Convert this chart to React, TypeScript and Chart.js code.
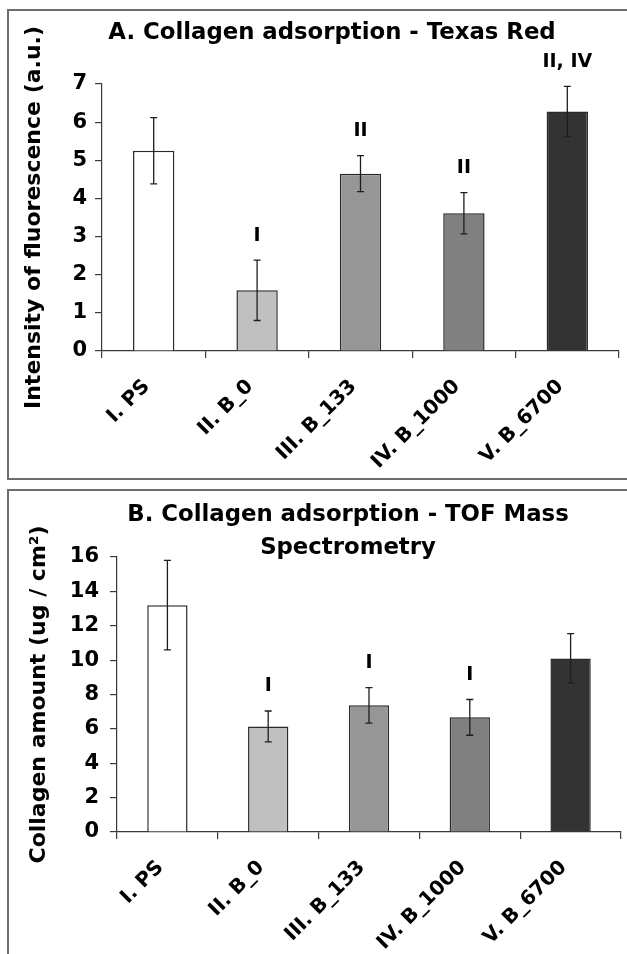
import React, { useEffect, useRef } from "react";
import { Chart, registerables } from "chart.js";

Chart.register(...registerables);

const FONT = "'DejaVu Sans', 'Liberation Sans', Arial, sans-serif";

const categories = ["I. PS", "II. B_0", "III. B_133", "IV. B_1000", "V. B_6700"];
const barColors = ["#ffffff", "#c0c0c0", "#969696", "#808080", "#333333"];

const fluorescenceValues = [5.25, 1.59, 4.65, 3.61, 6.28];
const fluorescenceErrors = [0.87, 0.79, 0.47, 0.54, 0.66];
const fluorescenceMarks = ["", "I", "II", "II", "II, IV"];
const fluorescenceTitle = ["A. Collagen adsorption - Texas Red"];
const fluorescenceAxisTitle = "Intensity of fluorescence (a.u.)";
const fluorescenceMax = 7;
const fluorescenceStep = 1;

const tofValues = [13.2, 6.14, 7.37, 6.67, 10.1];
const tofErrors = [2.6, 0.9, 1.03, 1.04, 1.44];
const tofMarks = ["", "I", "I", "I", ""];
const tofTitle = ["B. Collagen adsorption - TOF Mass", "Spectrometry"];
const tofAxisTitle = "Collagen amount (ug / cm\u00B2)";
const tofMax = 16;
const tofStep = 2;

const AXIS_COLOR = "#3a3a3a";

const annotatePlugin = {
  id: "annotate",
  afterDatasetsDraw(chart: any, _args: any, opts: any) {
    const { ctx } = chart;
    const meta = chart.getDatasetMeta(0);
    const y = chart.scales.y;
    ctx.save();
    ctx.strokeStyle = "#1e1e1e";
    ctx.lineWidth = 1.3;
    meta.data.forEach((bar: any, i: number) => {
      const v = opts.values[i];
      const e = opts.errors[i];
      const x = bar.x;
      const yt = y.getPixelForValue(v + e);
      const yb = y.getPixelForValue(v - e);
      ctx.beginPath();
      ctx.moveTo(x, yt);
      ctx.lineTo(x, yb);
      ctx.moveTo(x - 3.5, yt);
      ctx.lineTo(x + 3.5, yt);
      ctx.moveTo(x - 3.5, yb);
      ctx.lineTo(x + 3.5, yb);
      ctx.stroke();
      const m = opts.marks[i];
      if (m) {
        ctx.fillStyle = "#000";
        ctx.font = `bold 19px ${FONT}`;
        ctx.textAlign = "center";
        ctx.textBaseline = "middle";
        ctx.fillText(m, x, yt - 24.5);
      }
    });
    ctx.restore();
  },
  afterDraw(chart: any, _args: any, opts: any) {
    const { ctx } = chart;
    ctx.save();
    ctx.fillStyle = "#000";
    ctx.font = `bold 22.8px ${FONT}`;
    ctx.textAlign = "center";
    ctx.textBaseline = "middle";
    opts.title.forEach((line: string, i: number) => {
      ctx.fillText(line, opts.titleX, opts.titleY + i * opts.titleGap);
    });
    ctx.restore();
  },
};

type PanelProps = {
  top: number;
  height: number;
  values: number[];
  errors: number[];
  marks: string[];
  title: string[];
  titleX: number;
  titleY: number;
  axisTitle: string;
  yMax: number;
  yStep: number;
  chartTop: number;
  chartBottom: number;
  yWidth: number;
  padRight: number;
  titlePad: number;
  tickPad: number;
};

function Panel(p: PanelProps) {
  const ref = useRef<HTMLCanvasElement>(null);
  useEffect(() => {
    if (!ref.current) return;
    const chart = new Chart(ref.current, {
      type: "bar",
      data: {
        labels: categories,
        datasets: [
          {
            data: p.values,
            backgroundColor: barColors,
            borderColor: "#2a2a2a",
            borderWidth: 1.5,
            barPercentage: 0.4,
            categoryPercentage: 1,
          },
        ],
      },
      options: {
        responsive: false,
        animation: false,
        devicePixelRatio: 1,
        layout: { padding: { top: p.chartTop, right: p.padRight, left: 0, bottom: 0 } },
        plugins: {
          legend: { display: false },
          tooltip: { enabled: false },
          title: { display: false },
          annotate: {
            values: p.values,
            errors: p.errors,
            marks: p.marks,
            title: p.title,
            titleX: p.titleX,
            titleY: p.titleY,
            titleGap: 33,
          },
        } as any,
        scales: {
          x: {
            type: "category",
            offset: true,
            grid: {
              display: true,
              drawOnChartArea: false,
              drawTicks: true,
              tickLength: 7,
              color: AXIS_COLOR,
              lineWidth: 1.2,
              offset: true,
            },
            border: { display: true, color: AXIS_COLOR, width: 1.2 },
            ticks: {
              color: "#000",
              font: { family: FONT, size: 20, weight: "bold" },
              minRotation: 45,
              maxRotation: 45,
              autoSkip: false,
              padding: 17,
              labelOffset: -7,
            },
            afterFit: (s: any) => {
              s.height = p.height - p.chartBottom;
            },
          },
          y: {
            min: 0,
            max: p.yMax,
            ticks: {
              stepSize: p.yStep,
              color: "#000",
              font: { family: FONT, size: 21, weight: "bold" },
              padding: p.tickPad,
            },
            grid: {
              drawOnChartArea: false,
              drawTicks: true,
              tickLength: 7,
              color: AXIS_COLOR,
              lineWidth: 1.2,
            },
            border: { display: true, color: AXIS_COLOR, width: 1.2 },
            title: {
              display: true,
              text: p.axisTitle,
              color: "#000",
              font: { family: FONT, size: 22, weight: "bold" },
              padding: { top: p.titlePad, bottom: 0 },
            },
            afterFit: (s: any) => {
              s.width = p.yWidth;
            },
          },
        },
      },
      plugins: [annotatePlugin],
    } as any);
    return () => chart.destroy();
  }, []);
  return (
    <canvas
      ref={ref}
      width={627}
      height={p.height}
      style={{ position: "absolute", left: 0, top: p.top, width: 627, height: p.height }}
    />
  );
}

export default function App() {
  return (
    <div
      style={{
        position: "absolute",
        left: 0,
        top: 0,
        width: 627,
        height: 954,
        overflow: "hidden",
        background: "#fff",
      }}
    >
      <Panel
        top={0}
        height={480}
        values={fluorescenceValues}
        errors={fluorescenceErrors}
        marks={fluorescenceMarks}
        title={fluorescenceTitle}
        titleX={332}
        titleY={33}
        axisTitle={fluorescenceAxisTitle}
        yMax={fluorescenceMax}
        yStep={fluorescenceStep}
        chartTop={84}
        chartBottom={351}
        yWidth={102}
        padRight={8}
        titlePad={21}
        tickPad={8}
      />
      <Panel
        top={480}
        height={474}
        values={tofValues}
        errors={tofErrors}
        marks={tofMarks}
        title={tofTitle}
        titleX={348}
        titleY={35}
        axisTitle={tofAxisTitle}
        yMax={tofMax}
        yStep={tofStep}
        chartTop={77}
        chartBottom={352}
        yWidth={117}
        padRight={6}
        titlePad={26}
        tickPad={11}
      />
      <div
        style={{
          position: "absolute",
          left: 7,
          top: 9,
          width: 660,
          height: 467,
          border: "2px solid #6e6e6e",
          pointerEvents: "none",
        }}
      />
      <div
        style={{
          position: "absolute",
          left: 7,
          top: 489,
          width: 660,
          height: 600,
          border: "2px solid #6e6e6e",
          pointerEvents: "none",
        }}
      />
    </div>
  );
}
